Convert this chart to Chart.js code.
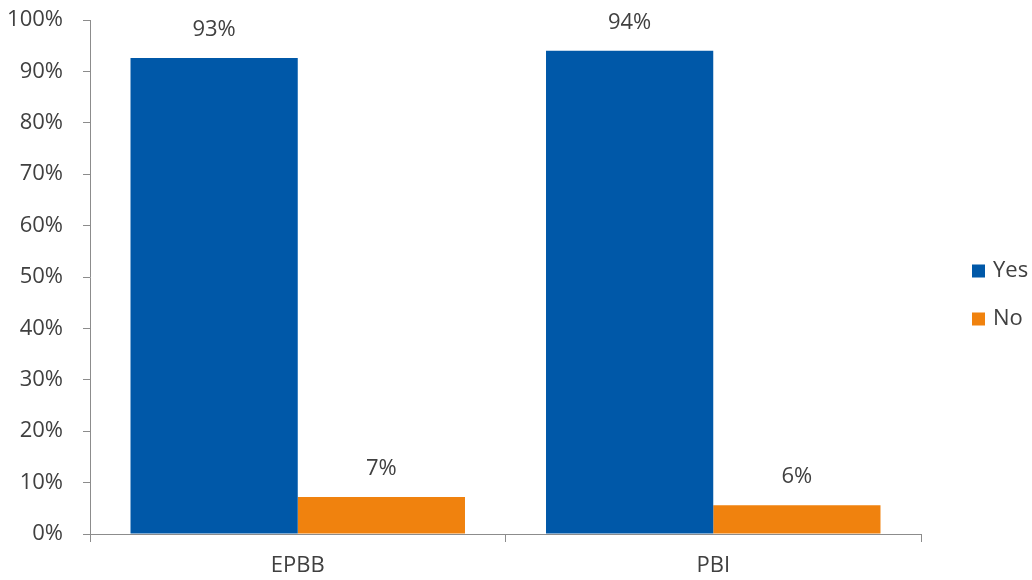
<!DOCTYPE html>
<html>
<head>
<meta charset="utf-8">
<script src="https://cdn.jsdelivr.net/npm/chart.js@4"></script>
<style>
  html, body { margin: 0; padding: 0; background: #fff; }
  #wrap { width: 1032px; height: 580px; }
</style>
</head>
<body>
<div id="wrap"><canvas id="chart" width="1032" height="580"></canvas></div>
<script>
const categories = ['EPBB', 'PBI'];
const yesValues = [92.6, 94.0];
const noValues = [7.2, 5.6];
const yesLabels = ['93%', '94%'];
const noLabels = ['7%', '6%'];

const FONT = '"Open Sans", sans-serif';
const TEXT = '#404040';
const AXIS = '#8c8c8c';

// value text above each bar + legend at the right side
const extras = {
  id: 'extras',
  afterDatasetsDraw(chart) {
    const ctx = chart.ctx;
    const texts = [yesLabels, noLabels];
    ctx.save();
    ctx.font = '22px ' + FONT;
    ctx.fillStyle = TEXT;
    ctx.textAlign = 'center';
    ctx.textBaseline = 'middle';
    chart.data.datasets.forEach((ds, i) => {
      chart.getDatasetMeta(i).data.forEach((bar, j) => {
        ctx.fillText(texts[i][j], bar.x, bar.y - 28);
      });
    });

    // legend
    const area = chart.chartArea;
    const lx = area.right + 51;
    const mid = (area.top + area.bottom) / 2;
    ctx.textAlign = 'left';
    chart.data.datasets.forEach((ds, i) => {
      const cy = mid - 6 + i * 48;
      ctx.fillStyle = ds.backgroundColor;
      ctx.fillRect(lx, cy - 6.5, 13, 13);
      ctx.fillStyle = TEXT;
      ctx.fillText(ds.label, lx + 21, cy);
    });
    ctx.restore();
  }
};

new Chart(document.getElementById('chart'), {
  type: 'bar',
  data: {
    labels: categories,
    datasets: [
      { label: 'Yes', data: yesValues, backgroundColor: '#0058a8' },
      { label: 'No', data: noValues, backgroundColor: '#f0820e' }
    ]
  },
  options: {
    responsive: false,
    animation: false,
    layout: { padding: { top: 20, left: 0, right: 111, bottom: 0 } },
    datasets: {
      bar: { categoryPercentage: 0.805, barPercentage: 1.0 }
    },
    plugins: {
      legend: { display: false },
      tooltip: { enabled: false }
    },
    scales: {
      x: {
        grid: {
          display: true,
          drawOnChartArea: false,
          offset: true,
          tickLength: 8,
          color: AXIS
        },
        border: { color: AXIS },
        ticks: {
          color: TEXT,
          padding: 11,
          font: { family: FONT, size: 22 }
        },
        afterFit(scale) { scale.height = 46; }
      },
      y: {
        min: 0,
        max: 100,
        ticks: {
          stepSize: 10,
          color: TEXT,
          padding: 20,
          font: { family: FONT, size: 22 },
          callback: v => v + '%'
        },
        grid: {
          display: true,
          drawOnChartArea: false,
          tickLength: 7,
          color: AXIS
        },
        border: { color: AXIS },
        afterFit(scale) {
          scale.width = 90;
          scale.paddingTop = 0;
          scale.paddingBottom = 0;
        }
      }
    }
  },
  plugins: [extras]
});
</script>
</body>
</html>
